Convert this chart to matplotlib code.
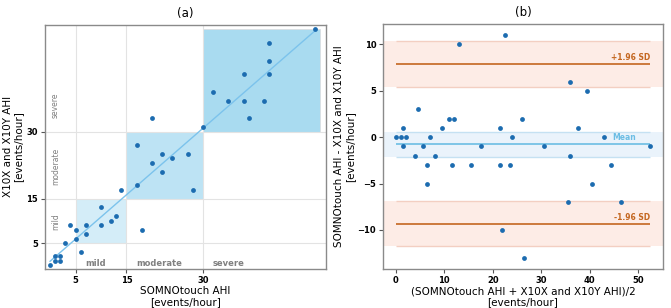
import numpy as np
import matplotlib
matplotlib.use("Agg")
import matplotlib.pyplot as plt
from matplotlib.patches import Rectangle

# ---- data --------------------------------------------------------------
SOMNO = [0, 1, 1, 2, 2, 3, 4, 5, 5, 6, 7, 7, 10, 10, 12, 13, 14, 17, 18, 17,
         20, 20, 22, 22, 24, 27, 28, 30, 32, 35, 38, 38, 39, 42, 43, 43, 43, 52]
X10 = [0, 1, 2, 1, 2, 5, 9, 8, 6, 3, 9, 7, 13, 9, 10, 11, 17, 18, 8, 27,
       23, 33, 25, 21, 24, 25, 17, 31, 39, 37, 37, 43, 33, 37, 43, 46, 50, 53]

SEVERITY_BOUNDS = [5, 15, 30, 53]
SEVERITY_NAMES = ["mild", "moderate", "severe"]
BOX_COLORS = ["#d4edf8", "#bde3f4", "#a9dbf0"]

# Bland-Altman statistics as drawn in the reference
MEAN_DIFF = -0.76
MEAN_CI = (-2.11, 0.58)
LOA_UP = 7.87
LOA_UP_CI = (5.41, 10.32)
LOA_LO = -9.39
LOA_LO_CI = (-11.75, -6.93)

DOT = "#1c6cb0"
FIT = "#7cc3ec"
LOA_C = "#c4661f"
LABEL_KW = dict(fontsize=7.5, linespacing=1.05)

fig = plt.figure(figsize=(6.71, 3.08), dpi=100)
ax1 = fig.add_axes([0.067, 0.127, 0.419, 0.792])
ax2 = fig.add_axes([0.571, 0.127, 0.417, 0.795])

# ---- (a) scatter --------------------------------------------------------
x = np.array(SOMNO)
y = np.array(X10)
for lo, hi, c in zip(SEVERITY_BOUNDS[:-1], SEVERITY_BOUNDS[1:], BOX_COLORS):
    ax1.add_patch(Rectangle((lo, lo), hi - lo, hi - lo, facecolor=c,
                            edgecolor="#dcdcdc", lw=0.5, zorder=0))
for b in SEVERITY_BOUNDS[:-1]:
    ax1.axvline(b, color="#e3e3e3", lw=0.8, zorder=0.5)
    ax1.axhline(b, color="#e3e3e3", lw=0.8, zorder=0.5)

k, c0 = np.polyfit(x, y, 1)
xs = np.array([x.min(), x.max()])
ax1.plot(xs, k * xs + c0, color=FIT, lw=1.0, zorder=2)
ax1.scatter(x, y, s=12, color=DOT, zorder=3, linewidths=0)

for b, name in zip(SEVERITY_BOUNDS[:-1], SEVERITY_NAMES):
    ax1.text(b + 2, 0.5, name, fontsize=6, color="#808080", fontweight="bold",
             ha="left", va="center")
    ax1.text(0.2, b + 3, name, fontsize=5.5, color="#808080", rotation=90,
             ha="left", va="bottom")

ax1.set_xlim(-1, 54.2)
ax1.set_ylim(-0.8, 54)
ax1.set_xticks(SEVERITY_BOUNDS[:-1])
ax1.set_yticks(SEVERITY_BOUNDS[:-1])
ax1.set_xlabel("SOMNOtouch AHI\n[events/hour]", labelpad=1, **LABEL_KW)
ax1.set_ylabel("X10X and X10Y AHI\n[events/hour]", labelpad=2, **LABEL_KW)
ax1.set_title("(a)", fontsize=8.5, pad=6)

# ---- (b) Bland-Altman ---------------------------------------------------
means = (x + y) / 2
diffs = x - y
mx = [means.min(), means.max()]

for (lo, hi), col, ec in [(LOA_UP_CI, "#fdece6", "#f3cfc2"),
                          (LOA_LO_CI, "#fdece6", "#f3cfc2"),
                          (MEAN_CI, "#eaf3fb", "#c5e1f2")]:
    ax2.axhspan(lo, hi, color=col, lw=0, zorder=0)
    ax2.hlines([lo, hi], mx[0], mx[1], color=ec, lw=1.0, zorder=1)

ax2.hlines([LOA_UP, LOA_LO], mx[0], mx[1], color=LOA_C, lw=1.2, zorder=2)
ax2.hlines(MEAN_DIFF, mx[0], mx[1], color="#6bbde4", lw=1.2, zorder=2)
ax2.scatter(means, diffs, s=12, color=DOT, zorder=3, linewidths=0)

ax2.text(mx[1], LOA_UP + 0.25, "+1.96 SD", color=LOA_C, fontsize=5.5,
         fontweight="bold", ha="right", va="bottom")
ax2.text(mx[1], LOA_LO + 0.25, "-1.96 SD", color=LOA_C, fontsize=5.5,
         fontweight="bold", ha="right", va="bottom")
ax2.text(mx[1] - 3, MEAN_DIFF + 0.25, "Mean", color="#6bbde4", fontsize=5.5,
         fontweight="bold", ha="right", va="bottom")

ax2.set_xticks([0, 10, 20, 30, 40, 50])
ax2.set_yticks([-10, -5, 0, 5, 10])
ax2.set_xlabel("(SOMNOtouch AHI + X10X and X10Y AHI)/2\n[events/hour]",
               labelpad=1, **LABEL_KW)
ax2.set_ylabel("SOMNOtouch AHI - X10X and X10Y AHI\n[events/hour]",
               labelpad=2, **LABEL_KW)
ax2.set_title("(b)", fontsize=8.5, pad=6)

for ax in (ax1, ax2):
    for s in ax.spines.values():
        s.set_color("#8a8a8a")
        s.set_linewidth(1.0)
    ax.tick_params(length=3, width=0.8, color="#555555", pad=2)
    for lab in ax.get_xticklabels() + ax.get_yticklabels():
        lab.set_fontsize(6)
        lab.set_fontweight("bold")

fig.savefig("out.png", dpi=100)
